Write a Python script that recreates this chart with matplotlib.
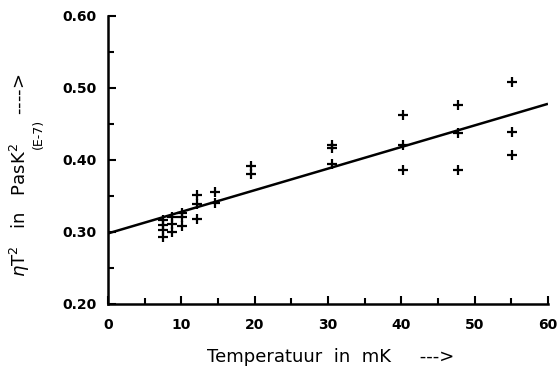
import numpy as np
import matplotlib.pyplot as plt
from matplotlib.ticker import MultipleLocator

# measured points (temperature in mK, eta*T^2 in units of 1e-7 PasK^2)
temp = [7.5, 7.5, 7.5, 7.5, 8.7, 8.7, 8.7, 10.1, 10.1, 10.1,
        12.2, 12.2, 12.2, 14.6, 14.6, 19.5, 19.5, 30.5, 30.5, 30.5,
        40.3, 40.3, 40.3, 47.7, 47.7, 47.7, 55.1, 55.1, 55.1]
eta_t2 = [0.317, 0.310, 0.303, 0.293, 0.321, 0.311, 0.300, 0.326, 0.321, 0.308,
          0.351, 0.339, 0.318, 0.356, 0.340, 0.392, 0.381, 0.421, 0.417, 0.394,
          0.4625, 0.421, 0.386, 0.476, 0.4375, 0.386, 0.508, 0.439, 0.407]

# fitted straight line
fit_x = [0, 60]
fit_intercept = 0.298
fit_slope = 0.00300

fig = plt.figure(figsize=(5.58, 3.71), dpi=100)
ax = fig.add_axes([0.1935, 0.1806, 0.7885, 0.7764])

fx = np.array(fit_x)
ax.plot(fx, fit_intercept + fit_slope * fx, color='black', lw=1.8, solid_capstyle='butt')
ax.plot(temp, eta_t2, '+', color='black', ms=7, mew=1.6)

ax.set_xlim(0, 60)
ax.set_ylim(0.20, 0.60)
ax.xaxis.set_major_locator(MultipleLocator(10))
ax.xaxis.set_minor_locator(MultipleLocator(5))
ax.yaxis.set_minor_locator(MultipleLocator(0.05))
ax.set_yticks([0.2, 0.3, 0.4, 0.5, 0.6])
ax.set_yticklabels(['0.20', '0.30', '0.40', '0.50', '0.60'])

for s in ['top', 'right']:
    ax.spines[s].set_visible(False)
for s in ['left', 'bottom']:
    ax.spines[s].set_linewidth(1.8)

ax.tick_params(which='both', direction='in', width=1.5)
ax.tick_params(which='major', length=6)
ax.tick_params(which='minor', length=4)
ax.tick_params(axis='x', pad=10)
ax.tick_params(axis='y', pad=8)
for lab in ax.get_xticklabels() + ax.get_yticklabels():
    lab.set_fontsize(10)
    lab.set_fontweight('bold')

fig.text(0.592, 0.038, 'Temperatuur  in  mK     --->', ha='center', va='center',
         fontsize=13)
fig.text(0.036, 0.528, r'$\eta$T$^2$   in   PasK$^2$     ---->', rotation=90,
         ha='center', va='center', fontsize=13)
fig.text(0.068, 0.639, '(E-7)', rotation=90, ha='center', va='center', fontsize=9)

fig.savefig('out.png', dpi=100)
